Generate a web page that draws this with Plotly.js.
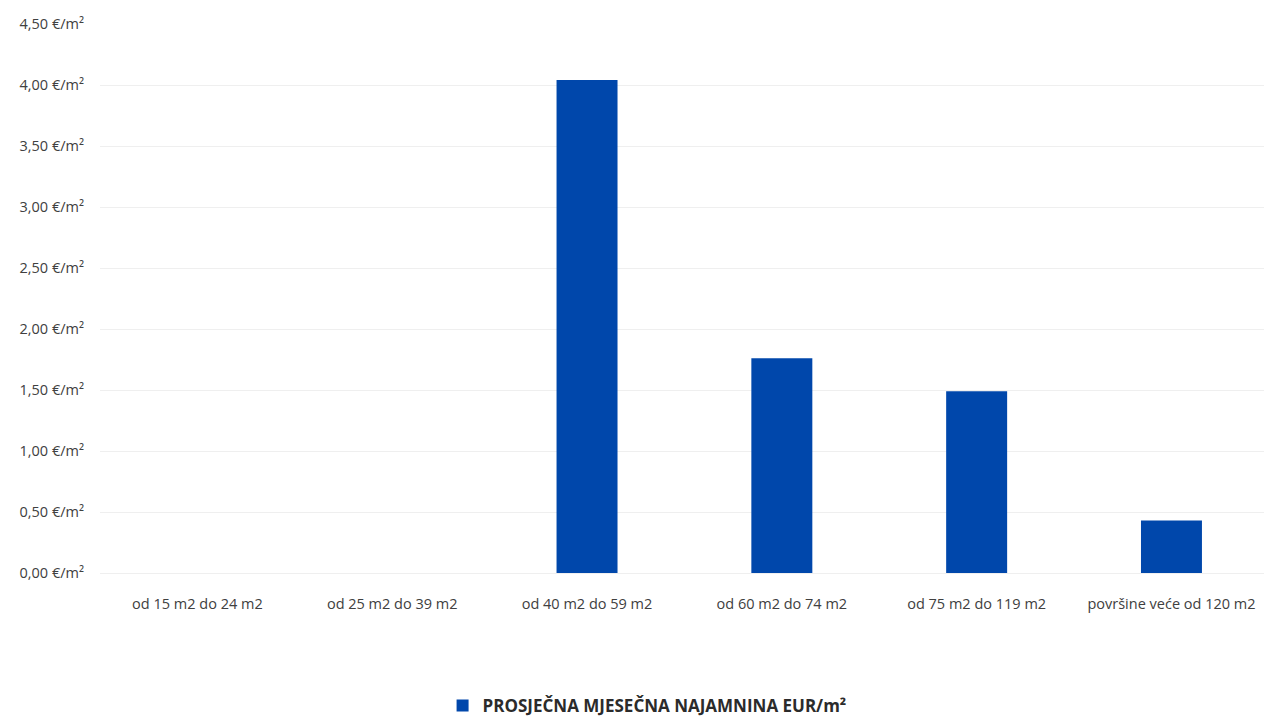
<!DOCTYPE html>
<html>
<head>
<meta charset="utf-8">
<script src="https://cdn.plot.ly/plotly-3.0.1.min.js"></script>
<style>html,body{margin:0;padding:0;background:#fff;overflow:hidden;}#chart{width:1264px;height:719px;}</style>
</head>
<body>
<div id="chart"></div>
<script>
const categories = ["od 15 m2 do 24 m2", "od 25 m2 do 39 m2", "od 40 m2 do 59 m2", "od 60 m2 do 74 m2", "od 75 m2 do 119 m2", "površine veće od 120 m2"];
const rentValues = [0, 0, 4.04, 1.76, 1.49, 0.43];
const seriesName = "PROSJEČNA MJESEČNA NAJAMNINA EUR/m²";
const yTicks = [0, 0.5, 1, 1.5, 2, 2.5, 3, 3.5, 4, 4.5];
const yTickText = yTicks.map(v => v.toFixed(2).replace(".", ",") + " €/m²");

const trace = {
  type: "bar",
  x: categories,
  y: rentValues,
  name: seriesName,
  marker: {color: "#0047ab"},
  hoverinfo: "x+y"
};

const layout = {
  width: 1264, height: 719,
  paper_bgcolor: "#fff", plot_bgcolor: "#fff",
  font: {family: "'Open Sans', sans-serif", size: 14.5, color: "#404040"},
  margin: {l: 100, r: 0, t: 24, b: 146, autoexpand: false},
  bargap: 0.687,
  showlegend: true,
  legend: {
    orientation: "h", x: 0.47, xanchor: "center",
    yref: "container", y: 0.018, yanchor: "middle",
    font: {size: 17, color: "#2b2b2b", family: "'Open Sans', sans-serif", weight: "bold"},
    itemwidth: 30
  },
  xaxis: {
    type: "category",
    range: [-0.5, 5.475],
    showgrid: false, zeroline: false, showline: false,
    ticks: "outside", ticklen: 18, tickcolor: "rgba(0,0,0,0)",
    tickfont: {size: 14.5, color: "#404040"}
  },
  yaxis: {
    range: [0, 4.5],
    tickmode: "array",
    tickvals: yTicks,
    ticktext: yTickText,
    showgrid: true, gridcolor: "#efefef", gridwidth: 1,
    zeroline: true, zerolinecolor: "#efefef",
    showline: false, ticks: "",
    ticklabelstandoff: 15,
    tickfont: {size: 14.5, color: "#404040"}
  }
};

Plotly.newPlot("chart", [trace], layout, {displayModeBar: false, staticPlot: true});
</script>
</body>
</html>
